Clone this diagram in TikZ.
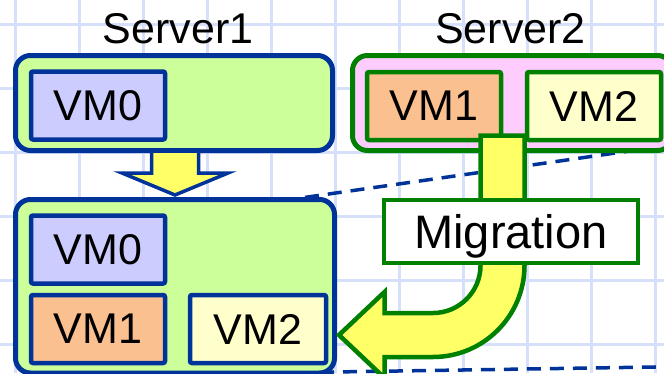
\documentclass[tikz,border=0pt]{standalone}
\usepackage{fontspec}
\setmainfont{Liberation Sans}
\usetikzlibrary{calc}
\definecolor{hostblue}{RGB}{0,51,153}
\definecolor{hostgreen}{RGB}{0,128,0}
\definecolor{limefill}{RGB}{204,255,153}
\definecolor{pinkfill}{RGB}{255,204,255}
\definecolor{vmlilac}{RGB}{204,204,255}
\definecolor{vmpeach}{RGB}{250,192,144}
\definecolor{vmcream}{RGB}{255,255,204}
\definecolor{arrowyellow}{RGB}{255,255,102}
\definecolor{gridblue}{RGB}{214,224,250}

\begin{document}
\begin{tikzpicture}[
    x=1pt, y=-1pt,
    host/.style={
        rectangle,
        rounded corners=15pt,
        line width=5pt,
        inner sep=0pt,
        minimum height=95pt
    },
    vm/.style={
        rectangle,
        rounded corners=2pt,
        line width=4.5pt,
        inner sep=0pt,
        minimum width=134pt,
        minimum height=68pt,
        font=\fontsize{43pt}{50pt}\selectfont
    },
    hostlabel/.style={
        font=\fontsize{43pt}{50pt}\selectfont,
        anchor=base,
        inner sep=0pt
    },
    blockarr/.style={
        fill=arrowyellow,
        line width=3.5pt,
        line join=miter
    },
    zoomline/.style={
        hostblue,
        line width=3.5pt,
        dash pattern=on 14pt off 9pt
    }
]
\useasboundingbox (0,0) rectangle (664,373);
\clip (0,0) rectangle (664,373);

% Background grid
\foreach \gx in {15,79,...,655}
    \draw[gridblue, line width=3pt] (\gx,0) -- (\gx,373);
\foreach \gy in {24,88,...,344}
    \draw[gridblue, line width=3pt] (0,\gy) -- (664,\gy);

% Zoom lines
\coordinate (zoomTL) at (305,197.4);
\coordinate (zoomTR) at (668,145.5);
\coordinate (zoomBL) at (320,372.2);
\coordinate (zoomBR) at (668,366.8);
\draw[zoomline] (zoomTL) -- (zoomTR);
\draw[zoomline] (zoomBL) -- (zoomBR);

% Server1 before migration
\node[hostlabel] (labelA) at (178,43) {Server1};
\node[host, draw=hostblue, fill=limefill, minimum width=317pt] (srvA) at (174,103) {};
\node[vm, draw=hostblue, fill=vmlilac] (vmA0) at (98,105.5) {VM0};

% Server2
\node[hostlabel] (labelB) at (510.5,43) {Server2};
\node[host, draw=hostgreen, fill=pinkfill, minimum width=320pt] (srvB) at (512.5,103) {};
\node[vm, draw=hostgreen, fill=vmpeach] (vmB1) at (434,106) {VM1};
\node[vm, draw=hostgreen, fill=vmcream] (vmB2) at (594,106) {VM2};

% Server1 after migration
\node[host, draw=hostblue, fill=limefill, minimum width=319pt, minimum height=173.5pt] (srvC) at (175,286.25) {};
\node[vm, draw=hostblue, fill=vmlilac] (vmC0) at (98,249.5) {VM0};
\node[vm, draw=hostblue, fill=vmpeach] (vmC1) at (98,329) {VM1};
\node[vm, draw=hostblue, fill=vmcream, minimum width=136pt] (vmC2) at (258,329) {VM2};

% Down arrow between the two states
\filldraw[blockarr, draw=hostblue]
    (151.5,153) -- (151.5,173) -- (122,173) -- (175,195)
    -- (228,173) -- (198.5,173) -- (198.5,153);

% Migration arrow
\filldraw[blockarr, draw=hostgreen, line width=4.5pt]
    (480.5,135.5) -- (480.5,265.5)
    .. controls (480.5,291.7) and (459.2,313) .. (433,313)
    -- (384.5,313) -- (384.5,292) -- (339,335) -- (384.5,378) -- (384.5,357)
    -- (433,357)
    .. controls (483.5,357) and (524.5,316) .. (524.5,265.5)
    -- (524.5,135.5) -- cycle;
\node[draw=hostgreen, fill=white, line width=4.5pt, inner sep=0pt,
      minimum width=254pt, minimum height=63pt, text depth=0pt,
      font=\fontsize{47pt}{54pt}\selectfont] (migr) at (511,231.5) {Migration};

\end{tikzpicture}
\end{document}
